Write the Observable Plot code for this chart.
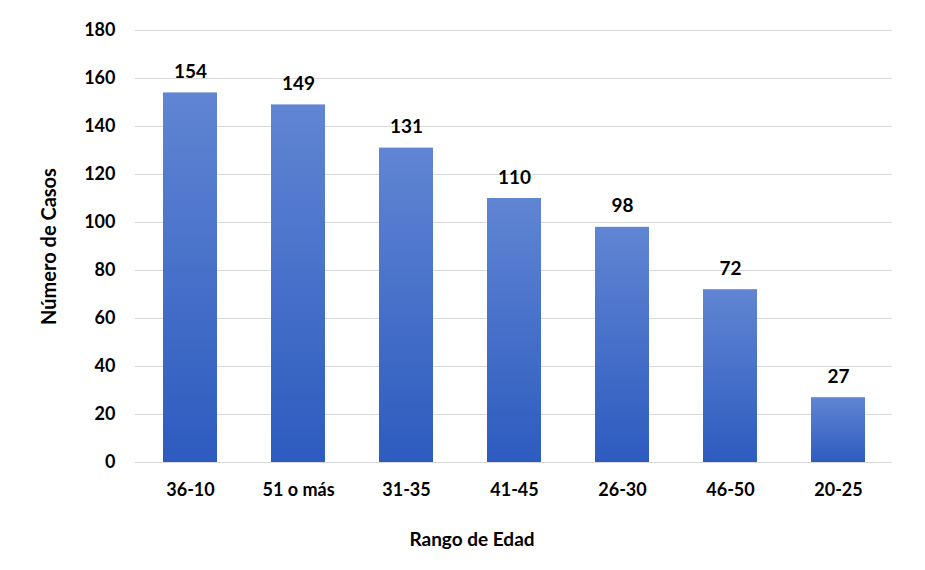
<!DOCTYPE html>
<html>
<head>
<meta charset="utf-8">
<script src="https://cdn.jsdelivr.net/npm/d3@7"></script>
<script src="https://cdn.jsdelivr.net/npm/@observablehq/plot@0.6"></script>
<style>
  html, body { margin: 0; padding: 0; background: #fff; }
</style>
</head>
<body>
<div id="chart"></div>
<script>
const categories = ["36-10", "51 o más", "31-35", "41-45", "26-30", "46-50", "20-25"];
const casos = [154, 149, 131, 110, 98, 72, 27];
const yTicks = [0, 20, 40, 60, 80, 100, 120, 140, 160, 180];

const data = categories.map((c, i) => ({rango: c, casos: casos[i]}));

const chart = Plot.plot({
  width: 925,
  height: 570,
  marginLeft: 135,
  marginRight: 33,
  marginTop: 30,
  marginBottom: 108,
  style: {fontFamily: "Lato, 'Open Sans', sans-serif", fontSize: "18px", fontWeight: "bold", color: "#000", background: "#fff"},
  x: {domain: categories, paddingInner: 0.5, paddingOuter: 0.25, label: null},
  y: {domain: [0, 180], label: null},
  marks: [
    Plot.gridY(yTicks, {stroke: "#d9d9d9", strokeOpacity: 1, strokeWidth: 1}),
    Plot.barY(data, {x: "rango", y: "casos", fill: "url(#barGrad)"}),
    Plot.text(data, {x: "rango", y: "casos", text: d => String(d.casos), dy: -21, fontSize: 19, fontWeight: "bold", fill: "#000"}),
    Plot.axisY(yTicks, {tickSize: 0, tickPadding: 20, fontSize: 18, fontWeight: "bold", label: null}),
    Plot.axisX({tickSize: 0, tickPadding: 21, fontSize: 18, fontWeight: "bold", label: null}),
    Plot.text(["Número de Casos"], {frameAnchor: "left", textAnchor: "middle", dx: -86, rotate: -90, fontSize: 20, fontWeight: "bold", fill: "#000"}),
    Plot.text(["Rango de Edad"], {frameAnchor: "bottom", dx: -42, dy: 83, fontSize: 19, fontWeight: "bold", fill: "#000"})
  ]
});

const ns = "http://www.w3.org/2000/svg";
const defs = document.createElementNS(ns, "defs");
const grad = document.createElementNS(ns, "linearGradient");
grad.setAttribute("id", "barGrad");
grad.setAttribute("x1", "0"); grad.setAttribute("y1", "0");
grad.setAttribute("x2", "0"); grad.setAttribute("y2", "1");
[["0%", "#6085d3"], ["100%", "#2d5bbf"]].forEach(([o, c]) => {
  const s = document.createElementNS(ns, "stop");
  s.setAttribute("offset", o);
  s.setAttribute("stop-color", c);
  grad.appendChild(s);
});
defs.appendChild(grad);
chart.insertBefore(defs, chart.firstChild);

document.getElementById("chart").appendChild(chart);
</script>
</body>
</html>
